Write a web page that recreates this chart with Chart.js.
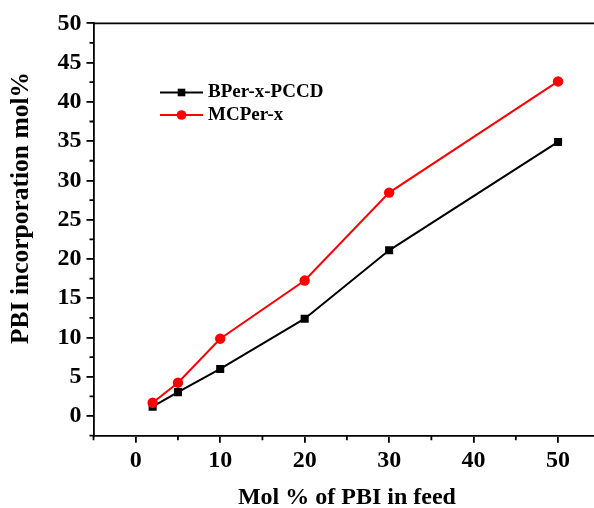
<!DOCTYPE html>
<html><head><meta charset="utf-8">
<script src="https://cdn.jsdelivr.net/npm/chart.js@4/dist/chart.umd.min.js"></script>
<style>
html,body{margin:0;padding:0;overflow:hidden;background:#fff;width:594px;height:508px}
#wrap{width:606px;height:508px}
</style></head>
<body><div id="wrap"><canvas id="c" width="606" height="508"></canvas></div>
<script>
const feedMol = [2, 5, 10, 20, 30, 50];
const bperPCCD = [1.2, 3.05, 6.0, 12.4, 21.1, 34.9];
const mcper = [1.7, 4.25, 9.85, 17.25, 28.45, 42.6];
const seriesNames = ['BPer-x-PCCD', 'MCPer-x'];
const xMajorTicks = [0, 10, 20, 30, 40, 50];
const xMinorTicks = [-5, 5, 15, 25, 35, 45, 55];
const yMajorTicks = [0, 5, 10, 15, 20, 25, 30, 35, 40, 45, 50];
const yMinorTicks = [-2.5, 2.5, 7.5, 12.5, 17.5, 22.5, 27.5, 32.5, 37.5, 42.5, 47.5];
const xTitle = 'Mol % of PBI in feed';
const yTitle = 'PBI incorporation mol%';

const FAMILY = '"Liberation Serif", "Times New Roman", serif';
Chart.defaults.font.family = FAMILY;
Chart.defaults.color = '#000';

const toPts = (xs, ys) => xs.map((v, i) => ({x: v, y: ys[i]}));

const decor = {
  id: 'decor',
  afterDraw(chart) {
    const {ctx, chartArea: a, scales: {x, y}} = chart;
    ctx.save();
    ctx.strokeStyle = '#000';
    ctx.lineWidth = 1.8;
    ctx.beginPath();
    ctx.moveTo(a.left, a.top); ctx.lineTo(a.right, a.top); ctx.lineTo(a.right, a.bottom);
    yMinorTicks.forEach(v => { const p = y.getPixelForValue(v); ctx.moveTo(a.left - 4, p); ctx.lineTo(a.left, p); });
    xMinorTicks.forEach(v => { const p = x.getPixelForValue(v); ctx.moveTo(p, a.bottom); ctx.lineTo(p, a.bottom + 4.5); });
    ctx.stroke();
    ctx.restore();

    // y axis title
    ctx.save();
    ctx.font = 'bold 25.5px ' + FAMILY;
    ctx.fillStyle = '#000';
    ctx.textAlign = 'center';
    ctx.textBaseline = 'middle';
    ctx.translate(21.5, (a.top + a.bottom) / 2 - 21.5);
    ctx.rotate(-Math.PI / 2);
    ctx.fillText(yTitle, 0, 0);
    ctx.restore();

    // legend (line + marker, origin style)
    ctx.save();
    const rows = [a.top + 69.2, a.top + 91.7];
    chart.data.datasets.forEach((ds, i) => {
      const yy = rows[i];
      const x0 = a.left + 66.5, x1 = a.left + 109.5, xm = (x0 + x1) / 2;
      ctx.strokeStyle = ds.borderColor;
      ctx.lineWidth = 2;
      ctx.beginPath(); ctx.moveTo(x0, yy); ctx.lineTo(x1, yy); ctx.stroke();
      ctx.fillStyle = ds.pointBackgroundColor;
      if (ds.pointStyle === 'rect') {
        ctx.fillRect(xm - 3.8, yy - 3.8, 7.6, 7.6);
      } else {
        ctx.beginPath(); ctx.arc(xm, yy, 4.8, 0, Math.PI * 2); ctx.fill();
      }
      ctx.fillStyle = '#000';
      ctx.font = 'bold 19px ' + FAMILY;
      ctx.textAlign = 'left';
      ctx.textBaseline = 'middle';
      ctx.fillText(ds.label, a.left + 114.5, yy);
    });
    ctx.restore();
  }
};

new Chart(document.getElementById('c'), {
  type: 'line',
  data: {
    datasets: [
      {
        label: seriesNames[0], data: toPts(feedMol, bperPCCD),
        borderColor: '#000000', backgroundColor: '#000000',
        pointBackgroundColor: '#000000', pointBorderColor: '#000000',
        pointStyle: 'rect', pointRadius: 5.7, pointBorderWidth: 0,
        borderWidth: 2, fill: false, tension: 0, order: 1
      },
      {
        label: seriesNames[1], data: toPts(feedMol, mcper),
        borderColor: '#ff0000', backgroundColor: '#ff0000',
        pointBackgroundColor: '#ff0000', pointBorderColor: '#ff0000',
        pointStyle: 'circle', pointRadius: 5.2, pointBorderWidth: 0,
        borderWidth: 2, fill: false, tension: 0, order: 0
      }
    ]
  },
  options: {
    responsive: false,
    animation: false,
    devicePixelRatio: 1,
    layout: {padding: {left: 0, top: 23.3, right: 2.5, bottom: 0}},
    plugins: {legend: {display: false}, tooltip: {enabled: false}},
    scales: {
      x: {
        type: 'linear', min: -5, max: 55,
        afterBuildTicks: s => { s.ticks = xMajorTicks.map(v => ({value: v})); },
        afterFit: s => { s.height = 72.3; },
        ticks: {font: {size: 24, weight: 'bold'}, color: '#000', padding: 4, maxRotation: 0},
        grid: {display: true, drawOnChartArea: false, drawTicks: true, tickLength: 7, color: '#000', lineWidth: 1.8},
        border: {display: true, color: '#000', width: 1.8},
        title: {display: true, text: xTitle, color: '#000',
          font: {size: 24, weight: 'bold', lineHeight: 1}, padding: {top: 0, bottom: -2}}
      },
      y: {
        type: 'linear', min: -2.5, max: 50,
        afterBuildTicks: s => { s.ticks = yMajorTicks.map(v => ({value: v})); },
        afterFit: s => { s.width = 93.5; },
        ticks: {font: {size: 24, weight: 'bold'}, color: '#000', padding: 5},
        grid: {display: true, drawOnChartArea: false, drawTicks: true, tickLength: 7, color: '#000', lineWidth: 1.8},
        border: {display: true, color: '#000', width: 1.8}
      }
    }
  },
  plugins: [decor]
});
</script>
</body></html>
